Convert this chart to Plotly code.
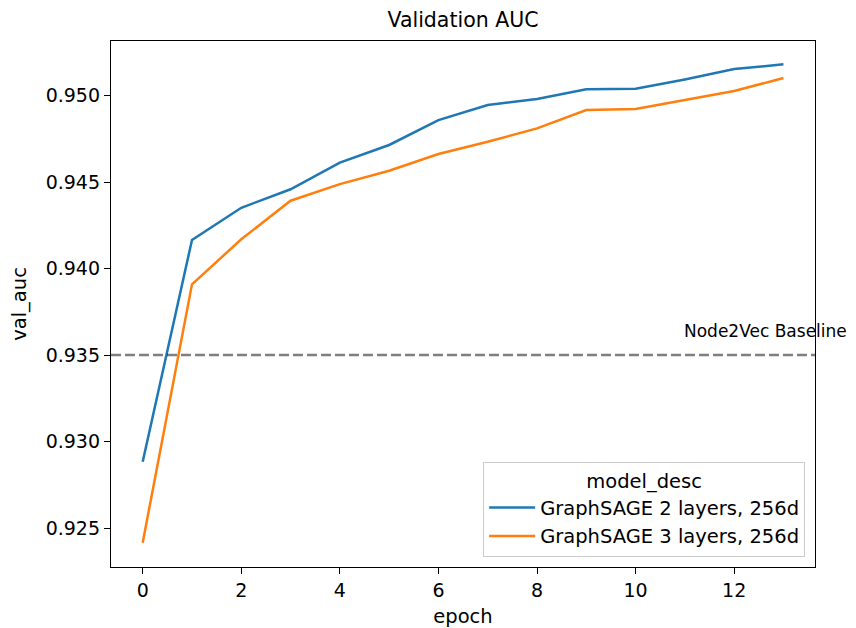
import plotly.graph_objects as go

epochs = list(range(14))
sage2_auc = [0.92883, 0.94165, 0.94351, 0.94458, 0.94612, 0.94714, 0.94858,
             0.94945, 0.94980, 0.95036, 0.95039, 0.95093, 0.95153, 0.95180]
sage3_auc = [0.92415, 0.93909, 0.94169, 0.94392, 0.94488, 0.94565, 0.94662,
             0.94733, 0.94810, 0.94916, 0.94922, 0.94974, 0.95026, 0.95101]
series_names = ["GraphSAGE 2 layers, 256d", "GraphSAGE 3 layers, 256d"]
baseline_value = 0.935
baseline_label = "Node2Vec Baseline"
baseline_label_x = 11
y_ticks = [0.925, 0.930, 0.935, 0.940, 0.945, 0.950]
x_ticks = [0, 2, 4, 6, 8, 10, 12]

FONT = "DejaVu Sans"
fig = go.Figure()
fig.add_trace(go.Scatter(x=epochs, y=sage2_auc, mode="lines", name=series_names[0],
                         line=dict(color="#1f77b4", width=2.5)))
fig.add_trace(go.Scatter(x=epochs, y=sage3_auc, mode="lines", name=series_names[1],
                         line=dict(color="#ff7f0e", width=2.5)))
fig.add_hline(y=baseline_value, line=dict(color="rgba(0,0,0,0.5)", width=2.5, dash="10px,4px"))
fig.add_annotation(x=baseline_label_x, y=baseline_value, text=baseline_label,
                   xanchor="left", yanchor="bottom", showarrow=False, yshift=12, xshift=-3,
                   font=dict(family=FONT, size=17, color="black"))

axis_common = dict(showline=True, linecolor="black", linewidth=1.3, mirror=True,
                   ticks="outside", ticklen=6, tickwidth=1.3, tickcolor="black",
                   showgrid=False, zeroline=False, automargin=False,
                   tickfont=dict(family=FONT, size=19, color="black"),
                   title_font=dict(family=FONT, size=19.5, color="black"))
fig.update_xaxes(range=[-0.643, 13.64], tickvals=x_ticks, title_text="epoch",
                 title_standoff=12, **axis_common)
fig.update_yaxes(range=[0.92275, 0.95315], tickvals=y_ticks, tickformat=".3f",
                 title_text="val_auc", title_standoff=13, **axis_common)

# page body has an 8px default margin, so the figure is 8px smaller than the window
fig.update_layout(
    width=848, height=620,
    margin=dict(l=103, r=41, t=33, b=61, autoexpand=False),
    paper_bgcolor="white", plot_bgcolor="white",
    title=dict(text="Validation AUC", x=0.5, xref="paper", xanchor="center",
               y=1, yref="paper", yanchor="bottom", pad=dict(b=14),
               font=dict(family=FONT, size=20.5, color="black")),
    legend=dict(x=0.986, y=0.019, xanchor="right", yanchor="bottom",
                bordercolor="#cccccc", borderwidth=1, bgcolor="rgba(255,255,255,0.8)",
                itemwidth=46,
                title=dict(text="model_desc", side="top center",
                           font=dict(family=FONT, size=19.5, color="black")),
                font=dict(family=FONT, size=19.5, color="black")),
    showlegend=True,
)
fig.write_html("out.html")
